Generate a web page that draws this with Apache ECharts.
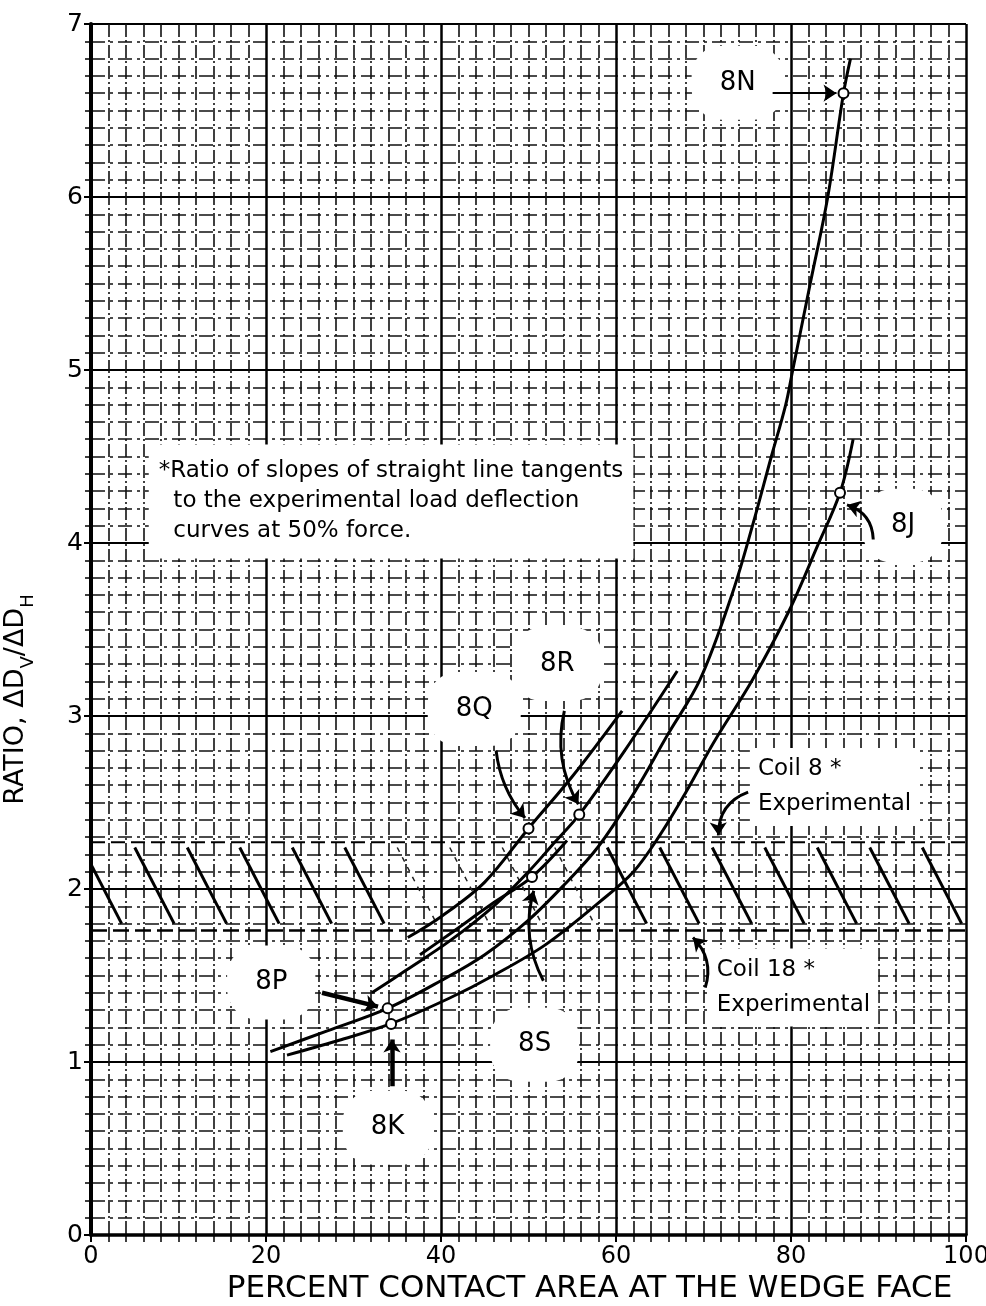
<!DOCTYPE html>
<html><head><meta charset="utf-8">
<script src="https://cdn.jsdelivr.net/npm/echarts@6/dist/echarts.min.js"></script>
<style>html,body{margin:0;padding:0;background:#fff}#c{width:986px;height:1306px}</style>
</head><body><div id="c"></div>
<script>
// ---- data ----
const xTickStep = 20;
const yTickStep = 1;
const curve8N = [[20.5,1.06],[27,1.18],[33.9,1.31],[40,1.47],[45,1.62],[50,1.82],[54,2.02],[57.9,2.24],[62,2.55],[66,2.9],[69.6,3.21],[73.3,3.71],[75.6,4.1],[77.7,4.49],[79.4,4.8],[80.2,5.0],[82.2,5.5],[84.2,6.0],[86,6.6],[86.8,6.8]];
const curve8J = [[22.4,1.04],[28,1.12],[34.2,1.22],[41,1.37],[46,1.5],[52,1.68],[58,1.92],[62,2.1],[65,2.31],[68,2.56],[71.2,2.85],[75.6,3.21],[79.8,3.61],[83,3.98],[85.6,4.29],[87.1,4.6]];
const curve8R = [[32.1,1.40],[36,1.53],[41,1.70],[46,1.9],[50,2.1],[53,2.27],[55.8,2.43],[61,2.8],[67,3.26]];
const curve8Q = [[36.2,1.72],[40,1.84],[45,2.04],[50,2.35],[55,2.65],[60.7,3.03]];
const curve8S = [[37.6,1.62],[41,1.74],[46,1.92],[50.4,2.07],[54.4,2.28]];
const testNames = ['8N','8J','8Q','8R','8S','8P','8K'];
const testX = [86, 85.6, 50, 55.8, 50.4, 33.9, 34.3];
const testY = [6.6, 4.29, 2.35, 2.43, 2.07, 1.31, 1.22];
const labelX = [73.9, 92.8, 43.8, 53.3, 50.7, 20.6, 33.9];
const labelY = [6.66, 4.1, 3.04, 3.30, 1.10, 1.46, 0.62];
// arrows: [x1,y1,x2,y2,curveness]
const arrows = [
  [77.9,6.6,85.2,6.6,0],
  [89.4,4.02,86.4,4.22,-0.35],
  [46.3,2.80,49.6,2.41,-0.15],
  [54.1,3.03,55.7,2.49,-0.2],
  [51.7,1.47,50.6,1.99,0.2],
  [26.4,1.40,32.8,1.32,0],
  [34.4,0.86,34.4,1.13,0],
  [75.1,2.56,71.7,2.31,-0.35],
  [70.2,1.43,68.8,1.72,-0.3]
];
const bandTop = 2.27, bandBottom = 1.76;
const hatchTopX =    [-1,5,11,17,23,29,35,41,47,53,59,65,71,77,83,89,95];
const hatchBottomX = [3.5,9.5,15.5,21.5,27.5,33.5,39.5,45.5,51.5,57.5,63.5,69.5,75.5,81.5,87.5,93.5,99.5];
const hatchTopY = 2.24, hatchBottomY = 1.80;
const faintHatch = [35,41,47,53];
const coilLabels = [
  {text:'Coil 8 *\nExperimental', x:75.3, y:2.59},
  {text:'Coil 18 *\nExperimental', x:70.6, y:1.43}
];
const footnote = '*Ratio of slopes of straight line tangents\n  to the experimental load deflection\n  curves at 50% force.';
const footnotePos = [6.6, 4.24];

// ---- chart ----
const FONT = 'DejaVu Sans';
const chart = echarts.init(document.getElementById('c'), null, {renderer:'canvas'});

const hatchData = hatchTopX.map((tx,i)=>({
  coords:[[tx,hatchTopY],[hatchBottomX[i],hatchBottomY]],
  lineStyle: faintHatch.includes(tx) ? {width:1.5, type:[5,6], color:'#222', opacity:1} : {width:3, color:'#000', opacity:1}
}));

const curveSeries = [curve8N, curve8J, curve8R, curve8Q, curve8S].map(c=>({
  type:'line', data:c, smooth:0.35, showSymbol:false, z:5,
  lineStyle:{color:'#000', width:3, opacity:1}, silent:true
}));

const labelBase = {color:'#000', fontFamily:FONT, backgroundColor:'#fff', opacity:1};

const option = {
  backgroundColor:'#fff',
  animation:false,
  grid:{left:91, right:20, top:24, bottom:71, containLabel:false, outerBoundsMode:'none'},
  xAxis:{
    type:'value', min:0, max:100, interval:xTickStep,
    axisLine:{show:true, onZero:false, lineStyle:{color:'#000', width:3.5}},
    axisTick:{show:true, length:7, lineStyle:{color:'#000', width:2}},
    minorTick:{show:true, splitNumber:10, length:7, lineStyle:{color:'#000', width:1.5}},
    splitLine:{show:true, lineStyle:{color:'#000', width:2.5}},
    minorSplitLine:{show:true, lineStyle:{color:'#111', width:1.6, type:[13,3,2,3]}},
    axisLabel:{fontSize:24, color:'#000', margin:10, fontFamily:FONT},
    name:'PERCENT CONTACT AREA AT THE WEDGE FACE', nameLocation:'middle', nameGap:38,
    nameTextStyle:{fontSize:31, color:'#000', fontFamily:FONT, padding:[0,0,0,122]}
  },
  yAxis:{
    type:'value', min:0, max:7, interval:yTickStep,
    axisLine:{show:true, onZero:false, lineStyle:{color:'#000', width:4}},
    axisTick:{show:true, length:7, lineStyle:{color:'#000', width:2}},
    minorTick:{show:true, splitNumber:10, length:6, lineStyle:{color:'#000', width:1.5}},
    splitLine:{show:true, lineStyle:{color:'#000', width:2}},
    minorSplitLine:{show:true, lineStyle:{color:'#111', width:1.5, type:[14,5,3,5]}},
    axisLabel:{fontSize:25, color:'#000', margin:8, fontFamily:FONT},
    name:'{a|RATIO, ΔD}{s|V}{a|/ΔD}{s|H}', nameLocation:'middle', nameGap:54, nameRotate:90,
    nameTextStyle:{color:'#000', padding:[0,140,0,0],
      rich:{a:{fontSize:27, fontFamily:FONT, color:'#000', lineHeight:42, verticalAlign:'middle'},
            s:{fontSize:18, fontFamily:FONT, color:'#000', lineHeight:42, verticalAlign:'bottom'}}}
  },
  series:[
    {type:'lines', coordinateSystem:'cartesian2d', polyline:false, z:2, silent:true,
     symbol:'none', data:hatchData, lineStyle:{color:'#000', width:3, opacity:1}},
    {type:'line', data:[[0,bandTop],[100,bandTop]], showSymbol:false, z:2, silent:true,
     lineStyle:{color:'#000', width:2, type:[14,6], opacity:1}},
    {type:'line', data:[[0,bandBottom],[100,bandBottom]], showSymbol:false, z:2, silent:true,
     lineStyle:{color:'#000', width:2.5, type:[16,6], opacity:1}},
    {type:'scatter', z:3, symbolSize:0, silent:true, itemStyle:{opacity:1},
     data:[footnotePos],
     label:Object.assign({show:true, position:'right', distance:0, formatter:footnote, align:'left',
       fontSize:23, lineHeight:30, padding:[12,10]}, labelBase)},
    {type:'scatter', z:3, symbolSize:0, silent:true, itemStyle:{opacity:1},
     data:coilLabels.map(c=>({value:[c.x,c.y], name:c.text})),
     label:Object.assign({show:true, position:'right', distance:0, formatter:p=>p.name, align:'left',
       fontSize:23, lineHeight:35, padding:[4,8]}, labelBase)},
    {type:'scatter', z:3, symbolSize:0, silent:true, itemStyle:{opacity:1},
     data:testNames.map((n,i)=>({value:[labelX[i],labelY[i]], name:n})),
     label:Object.assign({show:true, position:'inside', formatter:p=>p.name,
       fontSize:26, padding:[24,28], borderRadius:30}, labelBase)},
    ...curveSeries,
    {type:'lines', coordinateSystem:'cartesian2d', z:6, silent:true,
     symbol:['none','arrow'], symbolSize:13,
     data:arrows.map((a,i)=>({coords:[[a[0],a[1]],[a[2],a[3]]],
        lineStyle:{curveness:a[4], opacity:1, color:'#000', width:(i===5||i===6)?4.5:(i===0?2:3)}})),
     itemStyle:{color:'#000', opacity:1},
     lineStyle:{color:'#000', width:3, opacity:1}},
    {type:'scatter', z:7, silent:true, symbol:'circle', symbolSize:10,
     data:testNames.map((n,i)=>[testX[i],testY[i]]),
     itemStyle:{color:'#fff', borderColor:'#000', borderWidth:2, opacity:1}}
  ]
};
chart.setOption(option);
</script>
</body></html>
